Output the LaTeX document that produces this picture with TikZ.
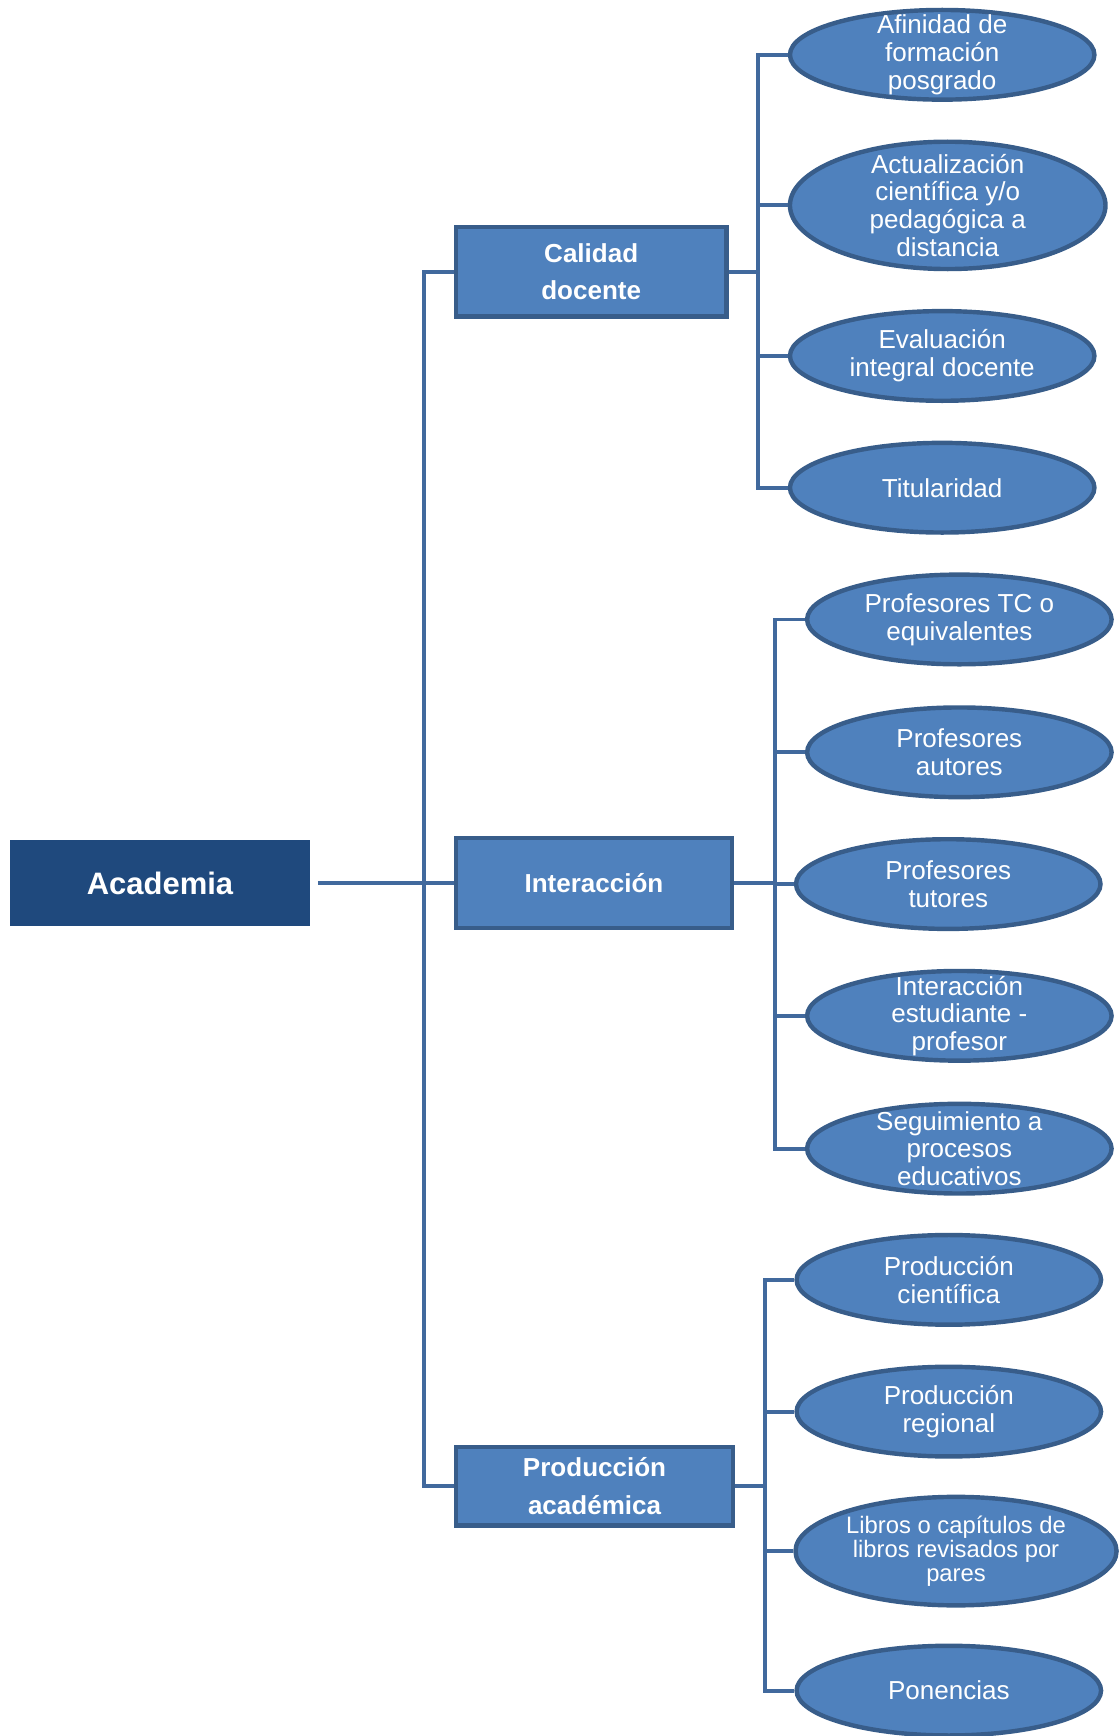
\documentclass[tikz,border=0pt]{standalone}
\usepackage{fontspec}
\setmainfont{Liberation Sans}
\usetikzlibrary{shapes.geometric}
\definecolor{acadblue}{HTML}{1F497D}
\definecolor{nodeblue}{HTML}{4F81BD}
\definecolor{edgeblue}{HTML}{385D8A}
\definecolor{linkblue}{HTML}{41699D}

\begin{document}
\begin{tikzpicture}[x=1pt, y=-1pt,
    root/.style={rectangle, fill=acadblue, text=white, minimum width=271pt, minimum height=77pt, inner sep=0pt, font=\fontsize{28}{32}\selectfont\bfseries},
    area/.style={rectangle, draw=edgeblue, line width=4pt, fill=nodeblue, text=white, minimum height=81pt, inner sep=0pt, align=center, font=\fontsize{23.5}{34}\selectfont\bfseries},
    item/.style={ellipse, draw=edgeblue, line width=4pt, fill=nodeblue, text=white, minimum width=275pt, minimum height=81pt, inner xsep=0pt, inner ysep=-12pt, align=center, font=\fontsize{23.5}{25}\selectfont},
    link/.style={draw=linkblue, line width=3.5pt}]
    \useasboundingbox (0,0) rectangle (1011,1568);
    % root and areas
    \node [root] (acad) at (144.5,797.5) {Academia};
    \node [area, minimum width=244pt] (cal) at (534,245.5) {Calidad\\docente};
    \node [area, minimum width=249pt] (inter) at (536.5,797.5) {Interacción};
    \node [area, minimum width=250pt, minimum height=71pt] (prod) at (537,1342.5) {Producción\\académica};
    % Calidad docente
    \node [item] (afi) at (851,49.5) {Afinidad de\\formación\\posgrado};
    \node [item, minimum width=285pt, minimum height=115pt] (act) at (856,185.5) {Actualización\\científica y/o\\pedagógica a\\distancia};
    \node [item] (eva) at (851,321.5) {Evaluación\\integral docente};
    \node [item] (tit) at (851,440.5) {Titularidad};
    % Interaccion
    \node [item] (ptc) at (866.5,559.5) {Profesores TC o\\equivalentes};
    \node [item] (pau) at (866.5,679.5) {Profesores\\autores};
    \node [item] (ptu) at (856.5,798.5) {Profesores\\tutores};
    \node [item] (ies) at (866.5,917.5) {Interacción\\estudiante -\\profesor};
    \node [item] (seg) at (866.5,1037.5) {Seguimiento a\\procesos\\educativos};
    % Produccion academica
    \node [item] (pci) at (857,1156) {Producción\\científica};
    \node [item] (pre) at (857,1275) {Producción\\regional};
    \node [item, minimum width=290pt, minimum height=98pt, font=\fontsize{21.5}{22}\selectfont] (lib) at (863.5,1401) {Libros o capítulos de\\libros revisados por\\pares};
    \node [item] (pon) at (857,1527) {Ponencias};
    % connectors
    \coordinate (trunk) at (383,797.5);
    \coordinate (calbus) at (685,245.5);
    \coordinate (interbus) at (700,797.5);
    \coordinate (prodbus) at (691,1342.5);
    \draw [link, shorten <=7pt] (acad.east) -- (inter.west);
    \draw [link] (cal.west) -| (trunk) |- (prod.west);
    \draw [link] (cal.east) -- (calbus);
    \draw [link] (inter.east) -- (interbus);
    \draw [link] (prod.east) -- (prodbus);
    \foreach \n in {afi,act,eva,tit}
        \draw [link] (calbus) |- (\n.west);
    \foreach \n in {ptc,pau,ptu,ies,seg}
        \draw [link] (interbus) |- (\n.west);
    \foreach \n in {pci,pre,lib,pon}
        \draw [link] (prodbus) |- (\n.west);
\end{tikzpicture}
\end{document}
